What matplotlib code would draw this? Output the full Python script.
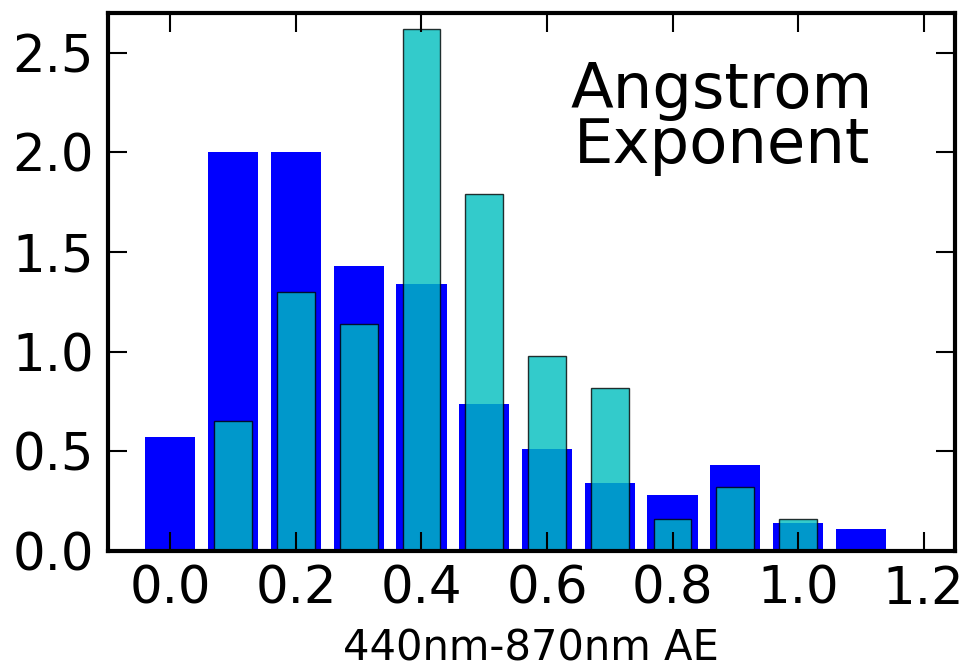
import matplotlib
matplotlib.use("Agg")
import matplotlib.pyplot as plt

# Histogram values
blue_x = [0.0, 0.1, 0.2, 0.3, 0.4, 0.5, 0.6, 0.7, 0.8, 0.9, 1.0, 1.1]
blue_h = [0.57, 2.0, 2.0, 1.43, 1.34, 0.74, 0.51, 0.34, 0.28, 0.43, 0.14, 0.11]

cyan_x = [0.1, 0.2, 0.3, 0.4, 0.5, 0.6, 0.7, 0.8, 0.9, 1.0]
cyan_h = [0.65, 1.30, 1.14, 2.62, 1.79, 0.98, 0.82, 0.16, 0.32, 0.16]

xticks = [0.0, 0.2, 0.4, 0.6, 0.8, 1.0, 1.2]
yticks = [0.0, 0.5, 1.0, 1.5, 2.0, 2.5]

plt.rcParams["font.family"] = "DejaVu Sans"

fig = plt.figure(figsize=(9.78, 6.70), dpi=100)
ax = fig.add_axes([0.110, 0.1776, 0.8665, 0.803])

ax.bar(blue_x, blue_h, width=0.08, color="b", edgecolor="none", align="center")
ax.bar(cyan_x, cyan_h, width=0.06, color="c", alpha=0.8,
       edgecolor="k", linewidth=1, align="center")

ax.set_xlim(-0.1, 1.25)
ax.set_ylim(0, 2.7)
ax.set_xticks(xticks)
ax.set_yticks(yticks)
ax.set_xticklabels(["%.1f" % t for t in xticks])
ax.set_yticklabels(["%.1f" % t for t in yticks])

ax.tick_params(direction="in", length=14, width=1.5, labelsize=37,
               top=True, right=True, pad=10)
for s in ax.spines.values():
    s.set_linewidth(3)

ax.set_xlabel("440nm-870nm AE", fontsize=30, labelpad=9)

ax.text(0.725, 0.91, "Angstrom\nExponent", transform=ax.transAxes,
        ha="center", va="top", fontsize=45, linespacing=0.88)

fig.savefig("out.png", dpi=100)
